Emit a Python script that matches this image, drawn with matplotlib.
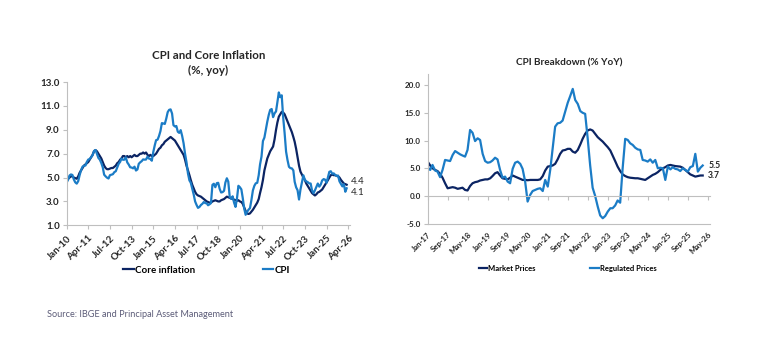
import numpy as np
import pandas as pd
import matplotlib
matplotlib.use("Agg")
import matplotlib.pyplot as plt
import matplotlib.dates as mdates

plt.rcParams['font.family'] = ['Lato', 'DejaVu Sans']

DARK = '#0b2463'
LIGHT = '#1b7cc6'
GRID = '#bfbfbf'
TXT = '#262626'

# ---- left chart: CPI and core inflation (% yoy), monthly from Jan-10
cpi = [
    4.59, 4.83, 5.17, 5.26, 5.22, 4.84, 4.60, 4.49, 4.70, 5.20, 5.63, 5.91,
    5.99, 6.01, 6.30, 6.51, 6.55, 6.71, 6.87, 7.23, 7.31, 6.97, 6.64, 6.50,
    6.22, 5.85, 5.24, 5.10, 4.99, 4.92, 5.20, 5.24, 5.28, 5.45, 5.53, 5.84,
    6.15, 6.31, 6.59, 6.49, 6.50, 6.70, 6.27, 6.09, 5.86, 5.84, 5.77, 5.91,
    5.59, 5.68, 6.15, 6.28, 6.37, 6.52, 6.50, 6.51, 6.75, 6.59, 6.56, 6.41,
    7.14, 7.70, 8.13, 8.17, 8.47, 8.89, 9.56, 9.53, 9.49, 9.93, 10.48, 10.67,
    10.71, 10.36, 9.39, 9.28, 9.32, 8.84, 8.74, 8.97, 8.48, 7.87, 6.99, 6.29,
    5.35, 4.76, 4.57, 4.08, 3.60, 3.00, 2.71, 2.46, 2.54, 2.70, 2.80, 2.95,
    2.86, 2.84, 2.68, 2.76, 2.86, 4.39, 4.48, 4.19, 4.53, 4.56, 4.05, 3.75,
    3.78, 3.89, 4.58, 4.94, 4.66, 3.37, 3.22, 3.43, 2.89, 2.54, 3.27, 4.31,
    4.19, 4.01, 3.30, 2.40, 1.88, 2.13, 2.31, 2.44, 3.14, 3.92, 4.31, 4.52,
    4.56, 5.20, 6.10, 6.76, 8.06, 8.35, 8.99, 9.68, 10.25, 10.67, 10.74, 10.06,
    10.38, 10.54, 11.30, 12.13, 11.73, 11.89, 10.07, 8.73, 7.17, 6.47, 5.90, 5.79,
    5.77, 5.60, 4.65, 4.18, 3.94, 3.16, 3.99, 4.61, 5.19, 4.82, 4.68, 4.62,
    4.51, 4.50, 3.93, 3.69, 3.93, 4.23, 4.50, 4.24, 4.42, 4.76, 4.87, 4.83,
    4.56, 5.06, 5.48, 5.53, 5.32, 5.35, 5.23, 5.13, 5.17, 4.68, 4.46, 4.26,
    4.44, 3.81, 4.10,
]
core = [
    4.8, 4.9, 5.0, 5.1, 5.1, 5.0, 4.95, 4.9, 5.1, 5.4, 5.6, 5.8,
    6.0, 6.1, 6.2, 6.3, 6.5, 6.7, 6.9, 7.2, 7.3, 7.2, 7.0, 6.8,
    6.6, 6.3, 6.0, 5.8, 5.7, 5.7, 5.75, 5.8, 5.8, 5.9, 6.0, 6.2,
    6.3, 6.5, 6.6, 6.8, 6.8, 6.7, 6.8, 6.7, 6.8, 6.7, 6.8, 6.9,
    6.8, 6.8, 6.9, 7.0, 7.0, 7.1, 7.0, 7.1, 6.9, 6.8, 6.9, 6.8,
    6.8, 6.9, 7.0, 7.2, 7.4, 7.5, 7.7, 7.8, 8.0, 8.1, 8.2, 8.3,
    8.4, 8.3, 8.2, 8.1, 7.9, 7.7, 7.5, 7.3, 7.1, 6.9, 6.5, 6.0,
    5.6, 5.2, 4.8, 4.4, 4.1, 3.8, 3.6, 3.5, 3.45, 3.4, 3.3, 3.2,
    3.1, 3.0, 2.95, 2.9, 2.9, 3.0, 3.05, 3.1, 3.05, 3.0, 3.0, 3.1,
    3.15, 3.2, 3.3, 3.4, 3.35, 3.3, 3.25, 3.2, 3.15, 3.1, 3.05, 3.1,
    3.0, 2.95, 2.8, 2.5, 2.2, 2.0, 1.95, 2.0, 2.15, 2.3, 2.5, 2.7,
    2.9, 3.2, 3.7, 4.2, 4.8, 5.6, 6.1, 6.6, 6.9, 7.2, 7.4, 7.6,
    8.2, 9.0, 9.6, 10.1, 10.3, 10.5, 10.45, 10.3, 10.0, 9.7, 9.4, 9.1,
    8.8, 8.4, 8.0, 7.4, 6.7, 6.0, 5.5, 5.25, 5.0, 4.8, 4.5, 4.3,
    4.1, 3.9, 3.7, 3.6, 3.5, 3.6, 3.75, 3.8, 3.9, 4.0, 4.2, 4.4,
    4.6, 4.8, 5.0, 5.2, 5.25, 5.2, 5.2, 5.15, 5.1, 5.0, 4.8, 4.65,
    4.5, 4.45, 4.4,
]

# ---- right chart: CPI breakdown (% yoy), monthly from Jan-17
market = [
    6.2, 5.5, 5.0, 4.7, 4.5, 4.0, 3.3, 2.3, 1.4, 1.5, 1.6, 1.5,
    1.3, 1.4, 1.5, 1.1, 1.0, 1.8, 2.3, 2.5, 2.6, 2.8, 2.9, 3.0,
    3.0, 3.2, 3.6, 4.1, 4.3, 3.7, 3.2, 3.1, 3.0, 3.3, 3.7, 3.5,
    3.3, 3.1, 2.9, 2.9, 2.85, 2.9, 2.9, 2.9, 2.9, 3.0, 3.6, 4.6,
    5.3, 5.4, 5.5, 5.8, 6.6, 7.6, 8.2, 8.3, 8.5, 8.5, 8.0, 7.8,
    8.3, 9.3, 10.3, 11.2, 11.8, 12.0, 11.8, 11.2, 10.6, 10.2, 9.8, 9.3,
    8.8, 8.2, 7.3, 6.3, 5.3, 4.5, 3.9, 3.6, 3.4, 3.3, 3.25, 3.2,
    3.2, 3.1, 3.0, 2.9, 3.2, 3.5, 3.8, 4.0, 4.3, 4.7, 5.0, 5.2,
    5.5, 5.6, 5.5, 5.4, 5.35, 5.3, 5.1, 4.7, 4.3, 3.9, 3.7, 3.5,
    3.6, 3.7, 3.7,
]
regulated = [
    5.2, 4.7, 5.6, 4.6, 4.4, 3.4, 4.7, 6.5, 6.4, 6.3, 7.4, 8.1,
    7.8, 7.5, 7.3, 7.1, 8.3, 11.9, 11.4, 9.9, 10.4, 10.1, 7.6, 6.3,
    6.0, 6.1, 6.4, 6.9, 6.6, 4.7, 3.3, 3.5, 2.6, 2.3, 4.9, 6.0,
    6.2, 5.8, 4.9, 2.6, -1.0, 0.2, 0.9, 1.1, 1.3, 1.4, 0.9, 2.9,
    1.7, 4.8, 8.5, 12.5, 13.1, 13.2, 13.6, 15.2, 16.8, 18.0, 19.3, 17.3,
    16.6, 15.3, 15.0, 14.8, 10.5, 5.5, 1.5, 0.0, -1.9, -3.5, -4.0, -3.6,
    -2.8, -2.2, -2.2, -1.7, -0.8, -1.2, 5.0, 10.3, 10.1, 9.5, 9.2, 8.7,
    8.4, 8.3, 6.5, 6.4, 6.2, 6.6, 6.0, 6.5, 5.0, 5.1, 5.0, 2.9,
    5.3, 4.8, 5.2, 4.9, 4.8, 4.5, 5.0, 4.7, 4.4, 5.2, 5.4, 7.6,
    4.4, 5.1, 5.5,
]

dates_l = pd.date_range('2010-01-01', periods=len(cpi), freq='MS')
dates_r = pd.date_range('2017-01-01', periods=len(market), freq='MS')
ticks_l = pd.date_range('2010-01-01', '2026-04-01', freq='15MS')
ticks_r = pd.date_range('2017-01-01', '2026-05-01', freq='8MS')

fig = plt.figure(figsize=(7.7, 3.63), dpi=100)
ax1 = fig.add_axes([0.0866, 0.3793, 0.3679, 0.3947])
ax2 = fig.add_axes([0.5554, 0.3835, 0.3666, 0.4129])

# left
ax1.plot(dates_l, core, color=DARK, lw=1.6, label='Core inflation')
ax1.plot(dates_l, cpi, color=LIGHT, lw=1.6, label='CPI')
ax1.set_ylim(1, 13)
ax1.set_yticks(np.arange(1, 14, 2))
ax1.yaxis.set_major_formatter(matplotlib.ticker.FormatStrFormatter('%.1f'))
ax1.set_xlim(dates_l[0], pd.Timestamp('2026-05-10'))
ax1.set_xticks(ticks_l)
ax1.xaxis.set_major_formatter(mdates.DateFormatter('%b-%y'))
ax1.annotate(f'{core[-1]:.1f}', (dates_l[-1], core[-1]), xytext=(3, 2),
             textcoords='offset points', fontsize=7, color=TXT, va='center')
ax1.annotate(f'{cpi[-1]:.1f}', (dates_l[-1], cpi[-1]), xytext=(3, -3),
             textcoords='offset points', fontsize=7, color=TXT, va='center')
ax1.set_title('CPI and Core Inflation\n(%, yoy)', fontsize=8.3, fontweight='bold',
              color=TXT, pad=6, linespacing=1.35)

# right
ax2.plot(dates_r, market, color=DARK, lw=1.6, label='Market Prices')
ax2.plot(dates_r, regulated, color=LIGHT, lw=1.6, label='Regulated Prices')
ax2.set_ylim(-5, 22)
ax2.set_yticks(np.arange(-5, 21, 5))
ax2.yaxis.set_major_formatter(matplotlib.ticker.FormatStrFormatter('%.1f'))
ax2.set_xlim(dates_r[0], pd.Timestamp('2026-05-28'))
ax2.set_xticks(ticks_r)
ax2.xaxis.set_major_formatter(mdates.DateFormatter('%b-%y'))
ax2.spines['bottom'].set_position(('data', 0))
ax2.axhline(-5, color=GRID, lw=0.8, clip_on=False)
ax2.annotate(f'{regulated[-1]:.1f}', (dates_r[-1], regulated[-1]), xytext=(4, 0),
             textcoords='offset points', fontsize=6.2, color=TXT, va='center',
             fontweight='bold')
ax2.annotate(f'{market[-1]:.1f}', (dates_r[-1], market[-1]), xytext=(4, 0),
             textcoords='offset points', fontsize=6.2, color=TXT, va='center',
             fontweight='bold')
ax2.set_title('CPI Breakdown (% YoY)', fontsize=7.2, fontweight='bold', color=TXT, pad=6)

for ax, fs_y, fs_x in ((ax1, 7, 7), (ax2, 5.8, 5.6)):
    for s in ('top', 'right'):
        ax.spines[s].set_visible(False)
    for s in ('left', 'bottom'):
        ax.spines[s].set_color(GRID)
        ax.spines[s].set_linewidth(0.8)
    ax.tick_params(axis='y', length=3, width=0.8, color=GRID, labelsize=fs_y,
                   labelcolor=TXT, pad=2)
    ax.tick_params(axis='x', length=3, width=0.8, color=GRID, labelsize=fs_x,
                   labelcolor=TXT)
    for lab in ax.get_yticklabels():
        lab.set_fontweight('bold')
    for lab in ax.get_xticklabels():
        lab.set_fontweight('bold')
        lab.set_rotation(45)
        lab.set_ha('right')
        lab.set_rotation_mode('anchor')

ax1.tick_params(axis='x', pad=3)
ax2.tick_params(axis='x', pad=22)

fig.legend(*ax1.get_legend_handles_labels(), loc='center', bbox_to_anchor=(0.268, 0.256),
           ncol=2, frameon=False, handlelength=1.1, handletextpad=0.1,
           columnspacing=7.0, prop={'weight': 'bold', 'size': 7})
fig.legend(*ax2.get_legend_handles_labels(), loc='center', bbox_to_anchor=(0.737, 0.26),
           ncol=2, frameon=False, handlelength=1.1, handletextpad=0.1,
           columnspacing=7.2, prop={'weight': 'bold', 'size': 5.5})

fig.text(0.061, 0.127, 'Source: IBGE and Principal Asset Management', fontsize=6.6,
         color='#5c5c78')

fig.savefig('out.png', dpi=100, facecolor='white')
